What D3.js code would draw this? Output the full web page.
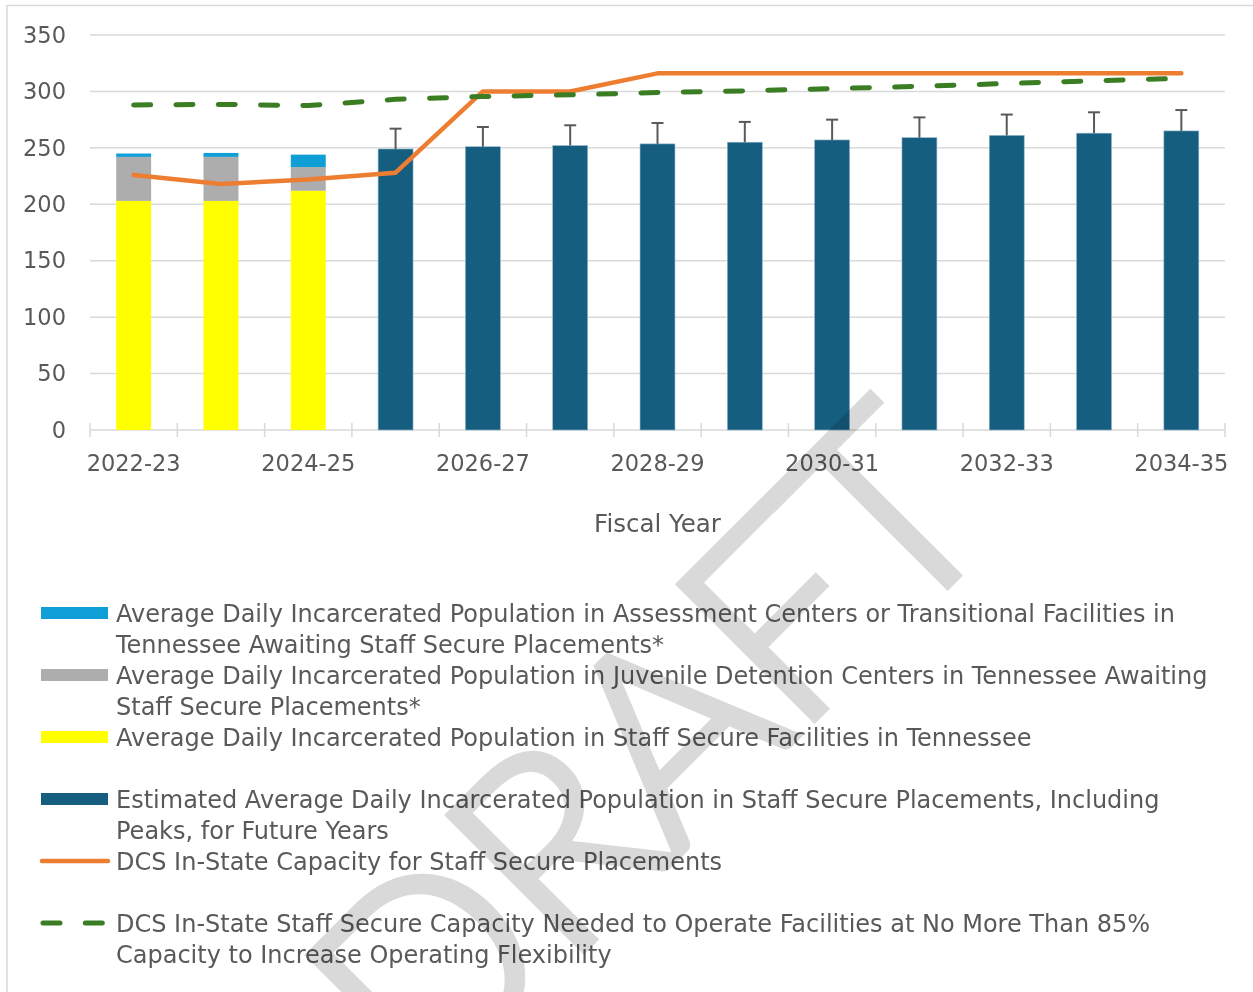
<!DOCTYPE html>
<html>
<head>
<meta charset="utf-8">
<script src="https://cdn.jsdelivr.net/npm/d3@7"></script>
<style>
  html, body { margin: 0; padding: 0; background: #fff; }
  #chart { width: 1253px; height: 992px; }
</style>
</head>
<body>
<div id="chart"></div>
<script>
var years = ['2022-23', '2023-24', '2024-25', '2025-26', '2026-27', '2027-28', '2028-29',
             '2029-30', '2030-31', '2031-32', '2032-33', '2033-34', '2034-35'];

// actual years (stacked)
var staffSecure = [203, 203, 212];
var juvenileDetention = [39, 39, 21];
var assessmentCenters = [3, 3.5, 11];

// future years
var estimated = [null, null, null, 249, 251, 252, 253.5, 255, 257, 259, 261, 263, 265];
var estimatedPeak = [null, null, null, 267, 268.5, 270, 272, 273, 275, 277, 279.5, 281.5, 283.5];

var capacity = [226, 218, 222, 228, 300, 300, 316, 316, 316, 316, 316, 316, 316];
var capacityNeeded = [288, 288.5, 287.5, 293, 295.5, 297, 299, 300.5, 302.5, 304.5, 307, 309.5, 311.5];

var yTicks = [0, 50, 100, 150, 200, 250, 300, 350];
var xLabels = ['2022-23', '2024-25', '2026-27', '2028-29', '2030-31', '2032-33', '2034-35'];

var legendItems = [
  {color: '#0F9ED5', type: 'rect', lines: ['Average Daily Incarcerated Population in Assessment Centers or Transitional Facilities in', 'Tennessee Awaiting Staff Secure Placements*']},
  {color: '#ADADAD', type: 'rect', lines: ['Average Daily Incarcerated Population in Juvenile Detention Centers in Tennessee Awaiting', 'Staff Secure Placements*']},
  {color: '#FFFF00', type: 'rect', lines: ['Average Daily Incarcerated Population in Staff Secure Facilities in Tennessee', '']},
  {color: '#165E80', type: 'rect', lines: ['Estimated Average Daily Incarcerated Population in Staff Secure Placements, Including', 'Peaks, for Future Years']},
  {color: '#ED7D31', type: 'line', lines: ['DCS In-State Capacity for Staff Secure Placements', '']},
  {color: '#3B7D23', type: 'dash', lines: ['DCS In-State Staff Secure Capacity Needed to Operate Facilities at No More Than 85%', 'Capacity to Increase Operating Flexibility']}
];

var font = '"DejaVu Sans", sans-serif';
var textColor = '#595959';
var gridColor = '#D9D9D9';

var margin = {left: 90, right: 28, top: 35, bottom: 562};
var elementWidth = 1253, elementHeight = 992;
var width = elementWidth - margin.left - margin.right,
    height = elementHeight - margin.top - margin.bottom;

var svg = d3.select('#chart')
    .append('svg')
    .attr('width', elementWidth)
    .attr('height', elementHeight)
    .style('font-family', font);

// chart frame
svg.append('rect')
    .attr('x', 7).attr('y', 5.5)
    .attr('width', 1300).attr('height', 1100)
    .attr('fill', '#fff')
    .attr('stroke', gridColor)
    .attr('stroke-width', 1.5);

var g = svg.append('g').attr('transform', 'translate(' + margin.left + ',' + margin.top + ')');

var x = d3.scaleBand()
    .domain(years)
    .range([0, width])
    .paddingInner(0.6)
    .paddingOuter(0.3);

var y = d3.scaleLinear()
    .domain([0, 350])
    .range([height, 0]);

// gridlines
g.append('g')
    .selectAll('line')
    .data(yTicks.filter(function(d) { return d > 0; }))
    .join('line')
    .attr('x1', 0).attr('x2', width)
    .attr('y1', function(d) { return y(d); })
    .attr('y2', function(d) { return y(d); })
    .attr('stroke', gridColor)
    .attr('stroke-width', 1.5);

// y axis labels
var yAxis = g.append('g')
    .call(d3.axisLeft(y).tickValues(yTicks).tickSize(0).tickPadding(24));
yAxis.select('.domain').remove();
yAxis.selectAll('text')
    .attr('fill', textColor)
    .style('font-size', '22.5px')
    .style('font-family', font);

// x axis: line + ticks at band boundaries
var step = x.step();
g.append('line')
    .attr('x1', 0).attr('x2', width)
    .attr('y1', height).attr('y2', height)
    .attr('stroke', gridColor)
    .attr('stroke-width', 1.5);
g.append('g')
    .selectAll('line')
    .data(d3.range(years.length + 1))
    .join('line')
    .attr('x1', function(i) { return i * step; })
    .attr('x2', function(i) { return i * step; })
    .attr('y1', height - 7).attr('y2', height + 7)
    .attr('stroke', gridColor)
    .attr('stroke-width', 1.5);

g.append('g')
    .selectAll('text')
    .data(xLabels)
    .join('text')
    .attr('x', function(d) { return x(d) + x.bandwidth() / 2; })
    .attr('y', height + 41)
    .attr('text-anchor', 'middle')
    .attr('fill', textColor)
    .style('font-size', '22.5px')
    .text(function(d) { return d; });

g.append('text')
    .attr('x', width / 2)
    .attr('y', height + 102)
    .attr('text-anchor', 'middle')
    .attr('fill', textColor)
    .style('font-size', '24.5px')
    .text('Fiscal Year');

// stacked bars for the actual years
var stackRows = staffSecure.map(function(v, i) {
  return {year: years[i], staff: v, juvenile: juvenileDetention[i], assessment: assessmentCenters[i]};
});
var stack = d3.stack().keys(['staff', 'juvenile', 'assessment']);
var stackColors = {staff: '#FFFF00', juvenile: '#ADADAD', assessment: '#0F9ED5'};

g.append('g')
    .selectAll('g')
    .data(stack(stackRows))
    .join('g')
    .attr('fill', function(s) { return stackColors[s.key]; })
    .selectAll('rect')
    .data(function(s) { return s; })
    .join('rect')
    .attr('x', function(d) { return x(d.data.year); })
    .attr('width', x.bandwidth())
    .attr('y', function(d) { return y(d[1]); })
    .attr('height', function(d) { return y(d[0]) - y(d[1]); });

// estimated bars with peaks
var future = years.map(function(yr, i) {
  return {year: yr, value: estimated[i], peak: estimatedPeak[i]};
}).filter(function(d) { return d.value != null; });

g.append('g')
    .selectAll('rect')
    .data(future)
    .join('rect')
    .attr('x', function(d) { return x(d.year); })
    .attr('width', x.bandwidth())
    .attr('y', function(d) { return y(d.value); })
    .attr('height', function(d) { return height - y(d.value); })
    .attr('fill', '#165E80')
    .attr('stroke', '#8FB4C8')
    .attr('stroke-width', 0.6);

var err = g.append('g')
    .attr('stroke', '#595959')
    .attr('stroke-width', 2);
err.selectAll('line.v')
    .data(future)
    .join('line')
    .attr('class', 'v')
    .attr('x1', function(d) { return x(d.year) + x.bandwidth() / 2; })
    .attr('x2', function(d) { return x(d.year) + x.bandwidth() / 2; })
    .attr('y1', function(d) { return y(d.value); })
    .attr('y2', function(d) { return y(d.peak); });
err.selectAll('line.c')
    .data(future)
    .join('line')
    .attr('class', 'c')
    .attr('x1', function(d) { return x(d.year) + x.bandwidth() / 2 - 6; })
    .attr('x2', function(d) { return x(d.year) + x.bandwidth() / 2 + 6; })
    .attr('y1', function(d) { return y(d.peak); })
    .attr('y2', function(d) { return y(d.peak); });

// lines
var line = d3.line()
    .x(function(d, i) { return x(years[i]) + x.bandwidth() / 2; })
    .y(function(d) { return y(d); });

g.append('path')
    .datum(capacity)
    .attr('fill', 'none')
    .attr('stroke', '#ED7D31')
    .attr('stroke-width', 4.5)
    .attr('stroke-linejoin', 'round')
    .attr('stroke-linecap', 'round')
    .attr('d', line);

g.append('path')
    .datum(capacityNeeded)
    .attr('fill', 'none')
    .attr('stroke', '#3B7D23')
    .attr('stroke-width', 5)
    .attr('stroke-linecap', 'round')
    .attr('stroke-dasharray', '17,25.3')
    .attr('d', line);

// legend
var legend = svg.append('g').attr('transform', 'translate(41,613)');
var rowH = 31;
var rowStarts = [0, 2, 4, 6, 8, 10];
legendItems.forEach(function(item, k) {
  var row = legend.append('g').attr('transform', 'translate(0,' + rowStarts[k] * rowH + ')');
  if (item.type === 'rect') {
    row.append('rect')
        .attr('x', 0).attr('y', -6)
        .attr('width', 67).attr('height', 12)
        .attr('fill', item.color);
  } else if (item.type === 'line') {
    row.append('line')
        .attr('x1', 1).attr('x2', 67).attr('y1', 0).attr('y2', 0)
        .attr('stroke', item.color).attr('stroke-width', 4.5)
        .attr('stroke-linecap', 'round');
  } else {
    row.append('line')
        .attr('x1', 2).attr('x2', 67).attr('y1', 0).attr('y2', 0)
        .attr('stroke', item.color).attr('stroke-width', 5)
        .attr('stroke-linecap', 'round')
        .attr('stroke-dasharray', '17,25.3');
  }
  item.lines.forEach(function(t, j) {
    if (!t) return;
    row.append('text')
        .attr('x', 75)
        .attr('y', j * rowH)
        .attr('dy', '0.36em')
        .attr('fill', textColor)
        .style('font-size', '24px')
        .text(t);
  });
});

// DRAFT watermark
svg.append('text')
    .attr('transform', 'translate(1003,530) rotate(-45)')
    .attr('text-anchor', 'end')
    .attr('fill', '#D9D9D9')
    .attr('stroke', '#D9D9D9')
    .attr('stroke-width', 8)
    .style('mix-blend-mode', 'multiply')
    .style('font-family', 'Lato, "Open Sans", sans-serif')
    .style('font-weight', 300)
    .style('font-size', '268px')
    .style('letter-spacing', '-6px')
    .text('DRAFT');
</script>
</body>
</html>
